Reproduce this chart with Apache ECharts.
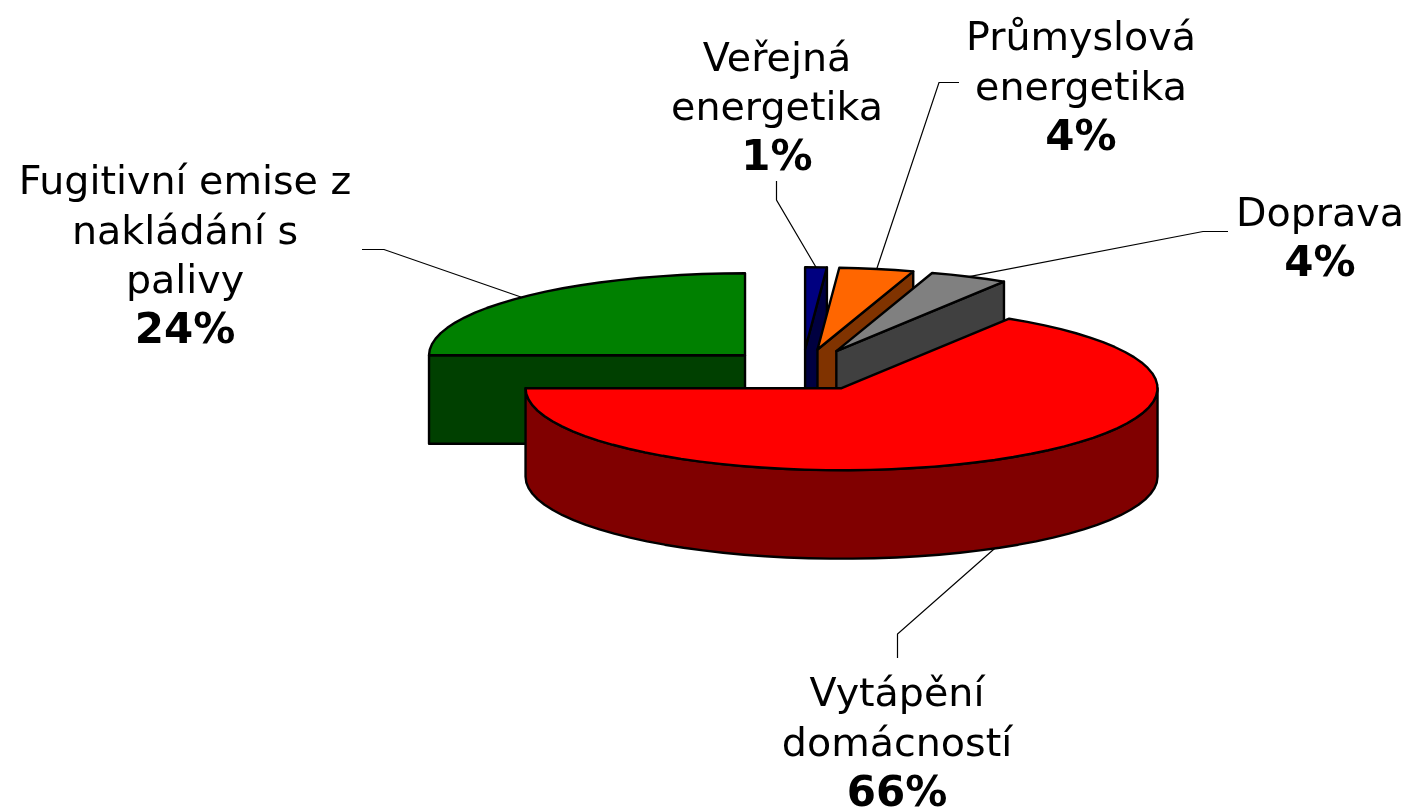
<!DOCTYPE html>
<html><head><meta charset="utf-8">
<style>html,body{margin:0;padding:0;background:#fff}#c{width:1405px;height:808px}</style>
<script src="https://cdn.jsdelivr.net/npm/echarts@6/dist/echarts.min.js"></script>
</head><body><div id="c"></div>
<script>
// Data: shares as drawn in the picture (percent of the full circle), clockwise from 9 o'clock
const categories = ['Fugitivní emise z\nnakládání s\npalivy', 'Veřejná\nenergetika', 'Průmyslová\nenergetika', 'Doprava', 'Vytápění\ndomácností'];
const shares = [25.0, 1.1, 3.8, 4.0, 66.1];
const percentLabels = ['24%', '1%', '4%', '4%', '66%'];
const topColors = ['#008000', '#000080', '#FF6600', '#808080', '#FF0000'];
const wallColors = ['#004000', '#000040', '#803300', '#404040', '#800000'];

// Layout
const startAngle = 270;
const center = [802.3, 370], rx = 316, ry = 82, depth = 88.5, explode = 81, explodeY = 0.257;
const labelCenters = [[185, 159], [777, 35.5], [1081, 15], [1320, 190.5], [897, 671]];
const labelLine = 49.5;
const leaderElbows = [
  [[362, 249.5], [384, 249.5]],
  [[776.5, 181], [776.5, 200]],
  [[959, 82.5], [939, 82.5]],
  [[1228, 231.5], [1203, 231.5]],
  [[897.5, 658], [897.5, 634]]
];

const rad = a => a * Math.PI / 180;
const total = shares.reduce((a, b) => a + b, 0);
let acc = startAngle;
const slices = shares.map(v => {
  let s = acc, e = acc + v / total * 360;
  acc = e;
  if (s >= 360) { s -= 360; e -= 360; }
  const m = (s + e) / 2;
  return { s, e, cx: center[0] + explode * Math.sin(rad(m)), cy: center[1] - explode * explodeY * Math.cos(rad(m)) };
});
function pt(sl, a, dz) { return [sl.cx + rx * Math.sin(rad(a)), sl.cy - ry * Math.cos(rad(a)) + (dz || 0)]; }
function arc(sl, a0, a1, dz) {
  const n = Math.max(1, Math.ceil(Math.abs(a1 - a0) / 4)), out = [];
  for (let i = 0; i <= n; i++) out.push(pt(sl, a0 + (a1 - a0) * i / n, dz));
  return out;
}
const edge = { stroke: '#000', lineWidth: 2.4, lineJoin: 'round' };
function poly(points, fill) { return { type: 'polygon', shape: { points }, style: Object.assign({ fill }, edge) }; }

function renderItem(params) {
  const i = params.dataIndex, sl = slices[i], kids = [];
  const mid = (sl.s + sl.e) / 2;
  // leader line, anchored on the slice's outer edge at its middle angle
  const front = mid > 90 && mid < 270;
  const anchor = pt(sl, mid, front ? depth : 0);
  kids.push({ type: 'polyline', shape: { points: leaderElbows[i].concat([anchor]) }, style: { stroke: '#000', lineWidth: 1.2, fill: null } });
  // radial walls facing the viewer
  const apex = [sl.cx, sl.cy], apexB = [sl.cx, sl.cy + depth];
  if (sl.s > 180) { const p = pt(sl, sl.s); kids.push(poly([apex, p, [p[0], p[1] + depth], apexB], wallColors[i])); }
  if (sl.e < 180) { const p = pt(sl, sl.e); kids.push(poly([apex, p, [p[0], p[1] + depth], apexB], wallColors[i])); }
  // outer rim: the part of the arc on the front half
  const r0 = Math.max(sl.s, 90), r1 = Math.min(sl.e, 270);
  if (r1 > r0) kids.push(poly(arc(sl, r0, r1).concat(arc(sl, r1, r0, depth)), wallColors[i]));
  // top face
  kids.push(poly([apex].concat(arc(sl, sl.s, sl.e)), topColors[i]));
  // label
  const lines = categories[i].split('\n').map(t => '{n|' + t + '}');
  lines.push('{b|' + percentLabels[i] + '}');
  kids.push({
    type: 'text', x: labelCenters[i][0], y: labelCenters[i][1],
    style: {
      text: lines.join('\n'), align: 'center', verticalAlign: 'top', fill: '#000',
      rich: {
        n: { fontFamily: 'DejaVu Sans', fontSize: 39.6, lineHeight: labelLine, fill: '#000', align: 'center' },
        b: { fontFamily: 'DejaVu Sans', fontSize: 42, fontWeight: 'bold', lineHeight: labelLine, fill: '#000', align: 'center' }
      }
    }
  });
  return { type: 'group', children: kids };
}

const chart = echarts.init(document.getElementById('c'), null, { renderer: 'canvas' });
chart.setOption({
  animation: false,
  backgroundColor: '#fff',
  series: [{
    type: 'custom', coordinateSystem: 'none', silent: true,
    data: shares.map(v => [v]),
    renderItem
  }]
});
</script></body></html>
